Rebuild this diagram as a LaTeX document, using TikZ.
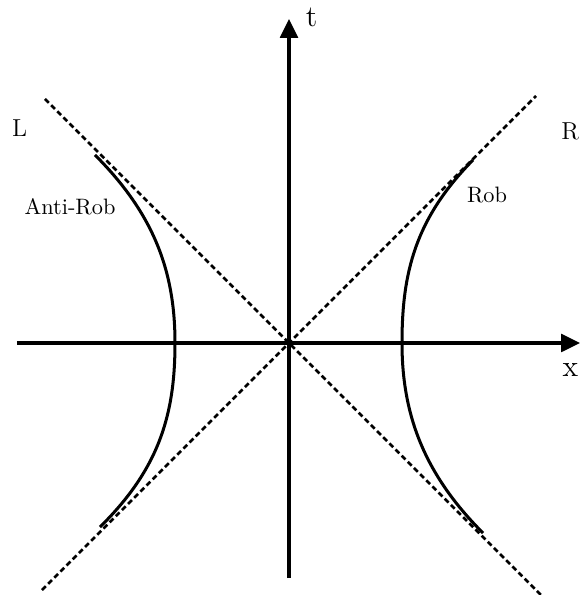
\documentclass[tikz,border=0pt]{standalone}
\usetikzlibrary{arrows.meta}
\begin{document}
\begin{tikzpicture}[x=1.576cm, y=1.576cm,
    axis/.style={line width=1.35pt, -{Triangle[width=8pt,length=8.5pt]}},
    branch/.style={line width=1.35pt},
    lightray/.style={line width=1.15pt, dash pattern=on 2.4pt off 1.5pt},
    lbl/.style={inner sep=0pt},
    axislbl/.style={inner sep=0pt, font=\fontsize{13.5}{16}\selectfont},
    wedgelbl/.style={inner sep=0pt, font=\fontsize{11}{13}\selectfont}]
    \useasboundingbox (-2.89,-2.52) rectangle (2.92,3.43);

    % Light cone (dashed)
    \coordinate (O) at (0,0);
    \coordinate (rayLL) at (-2.47,-2.47);
    \coordinate (rayUR) at (2.47,2.47);
    \coordinate (rayUL) at (-2.44,2.44);
    \coordinate (rayLR) at (2.53,-2.53);
    \draw[lightray] (rayLL) -- (rayUR);
    \draw[lightray] (rayUL) -- (rayLR);

    % Axes
    \coordinate (xmin) at (-2.72,0);
    \coordinate (xmax) at (2.91,0);
    \coordinate (tmin) at (0,-2.35);
    \coordinate (tmax) at (0,3.24);
    \draw[axis] (xmin) -- (xmax);
    \draw[axis] (tmin) -- (tmax);
    \node[axislbl] (tlabel) at (0.227,3.26) {t};
    \node[axislbl] (xlabel) at (2.813,-0.267) {x};

    % === Right wedge: Rob ===
    \draw[branch] (1.84,1.83) .. controls (1.26,1.24) and (1.13,0.70) .. (1.13,0)
        .. controls (1.13,-0.70) and (1.34,-1.30) .. (1.94,-1.90);
    \node[wedgelbl] (R) at (2.813,2.113) {R};
    \node[lbl] (rob) at (1.98,1.475) {Rob};

    % === Left wedge: Anti-Rob ===
    \draw[branch] (-1.94,1.88) .. controls (-1.34,1.28) and (-1.14,0.70) .. (-1.14,0)
        .. controls (-1.14,-0.70) and (-1.29,-1.25) .. (-1.89,-1.84);
    \node[wedgelbl] (L) at (-2.693,2.15) {L};
    \node[lbl] (antirob) at (-2.19,1.365) {Anti-Rob};

\end{tikzpicture}
\end{document}
